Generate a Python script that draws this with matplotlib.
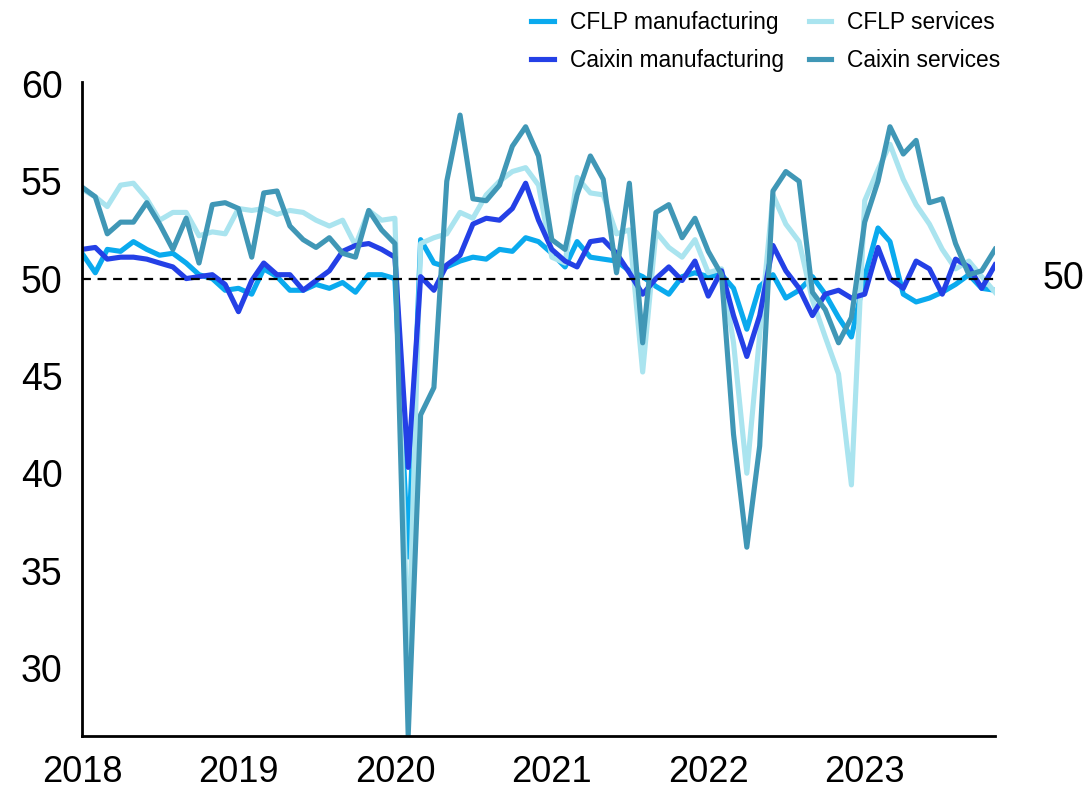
import pandas as pd
import matplotlib
matplotlib.use("Agg")
import matplotlib.pyplot as plt
import matplotlib.dates as mdates

plt.rcParams['font.family'] = ['Liberation Sans', 'DejaVu Sans']

# monthly readings, Jan 2018 - Nov 2023
months = pd.date_range('2018-01-01', periods=71, freq='MS')

cflp_mfg = [51.3, 50.3, 51.5, 51.4, 51.9, 51.5, 51.2, 51.3, 50.8, 50.2, 50.0, 49.4,
            49.5, 49.2, 50.5, 50.1, 49.4, 49.4, 49.7, 49.5, 49.8, 49.3, 50.2, 50.2,
            50.0, 35.7, 52.0, 50.8, 50.6, 50.9, 51.1, 51.0, 51.5, 51.4, 52.1, 51.9,
            51.3, 50.6, 51.9, 51.1, 51.0, 50.9, 50.4, 50.1, 49.6, 49.2, 50.1, 50.3,
            50.1, 50.2, 49.5, 47.4, 49.6, 50.2, 49.0, 49.4, 50.1, 49.2, 48.0, 47.0,
            50.1, 52.6, 51.9, 49.2, 48.8, 49.0, 49.3, 49.7, 50.2, 49.5, 49.4]

cflp_svc = [54.6, 54.2, 53.7, 54.8, 54.9, 54.1, 53.0, 53.4, 53.4, 52.2, 52.4, 52.3,
            53.6, 53.5, 53.6, 53.3, 53.5, 53.4, 53.0, 52.7, 53.0, 51.7, 53.5, 53.0,
            53.1, 30.1, 51.8, 52.1, 52.3, 53.4, 53.1, 54.3, 55.0, 55.5, 55.7, 54.8,
            51.1, 50.8, 55.2, 54.4, 54.3, 52.3, 52.5, 45.2, 52.4, 51.6, 51.1, 52.0,
            50.3, 50.5, 46.7, 40.0, 47.1, 54.3, 52.8, 51.9, 48.9, 47.0, 45.1, 39.4,
            54.0, 55.6, 56.9, 55.1, 53.8, 52.8, 51.5, 50.5, 50.9, 50.1, 49.3]

caixin_mfg = [51.5, 51.6, 51.0, 51.1, 51.1, 51.0, 50.8, 50.6, 50.0, 50.1, 50.2, 49.7,
              48.3, 49.9, 50.8, 50.2, 50.2, 49.4, 49.9, 50.4, 51.4, 51.7, 51.8, 51.5,
              51.1, 40.3, 50.1, 49.4, 50.7, 51.2, 52.8, 53.1, 53.0, 53.6, 54.9, 53.0,
              51.5, 50.9, 50.6, 51.9, 52.0, 51.3, 50.3, 49.2, 50.0, 50.6, 49.9, 50.9,
              49.1, 50.4, 48.1, 46.0, 48.1, 51.7, 50.4, 49.5, 48.1, 49.2, 49.4, 49.0,
              49.2, 51.6, 50.0, 49.5, 50.9, 50.5, 49.2, 51.0, 50.6, 49.5, 50.7]

caixin_svc = [54.7, 54.2, 52.3, 52.9, 52.9, 53.9, 52.8, 51.5, 53.1, 50.8, 53.8, 53.9,
              53.6, 51.1, 54.4, 54.5, 52.7, 52.0, 51.6, 52.1, 51.3, 51.1, 53.5, 52.5,
              51.8, 26.5, 43.0, 44.4, 55.0, 58.4, 54.1, 54.0, 54.8, 56.8, 57.8, 56.3,
              52.0, 51.5, 54.3, 56.3, 55.1, 50.3, 54.9, 46.7, 53.4, 53.8, 52.1, 53.1,
              51.4, 50.2, 42.0, 36.2, 41.4, 54.5, 55.5, 55.0, 49.3, 48.4, 46.7, 48.0,
              52.9, 55.0, 57.8, 56.4, 57.1, 53.9, 54.1, 51.8, 50.2, 50.4, 51.5]

fig = plt.figure(figsize=(10.89, 7.90), dpi=100)
ax = fig.add_axes([82/1089, 1 - 736/790, 913/1089, 654/790])

lw = 3.7
l1, = ax.plot(months, cflp_mfg, color='#0aaaee', lw=lw, label='CFLP manufacturing')
l2, = ax.plot(months, cflp_svc, color='#aae4ef', lw=lw, label='CFLP services')
l3, = ax.plot(months, caixin_mfg, color='#2440e6', lw=lw, label='Caixin manufacturing')
l4, = ax.plot(months, caixin_svc, color='#4097b6', lw=lw, label='Caixin services')

ax.axhline(50, color='black', lw=1.6, ls=(0, (4, 3)), zorder=5)
ax.text(1.0745, 50, '50', transform=ax.get_yaxis_transform(), fontsize=27,
        ha='center', va='center')

ax.set_xlim(months[0], months[-1])
ax.set_ylim(26.5, 60.1)
ax.set_yticks([30, 35, 40, 45, 50, 55, 60])
ax.xaxis.set_major_locator(mdates.YearLocator())
ax.xaxis.set_major_formatter(mdates.DateFormatter('%Y'))
ax.tick_params(axis='both', length=0, labelsize=26)
ax.tick_params(axis='y', pad=14, labelsize=27)
ax.tick_params(axis='x', pad=14)

for side in ['top', 'right']:
    ax.spines[side].set_visible(False)
for side in ['left', 'bottom']:
    ax.spines[side].set_linewidth(2)

fig.legend(handles=[l1, l3, l2, l4], loc='upper right', ncol=2,
           bbox_to_anchor=(1012/1089, 1.0), frameon=False, fontsize=16.4,
           handlelength=1.0, handletextpad=0.7, columnspacing=1.1,
           labelspacing=0.62, borderpad=0)

fig.savefig('out.png', dpi=100)
